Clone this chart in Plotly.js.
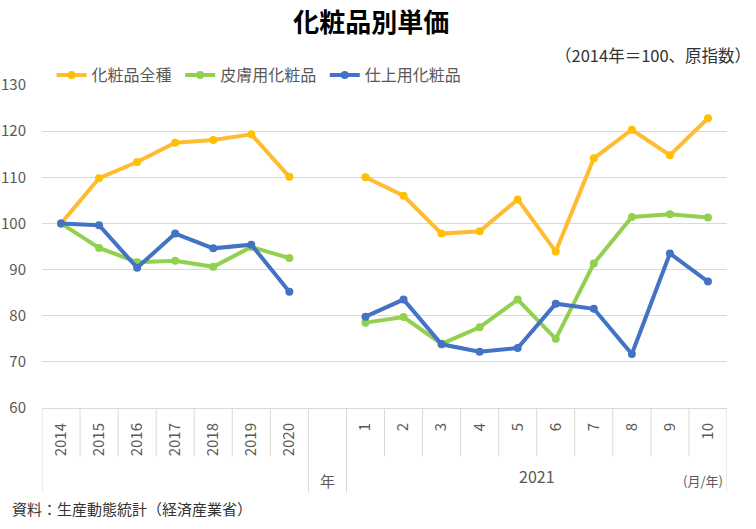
<!DOCTYPE html>
<html>
<head>
<meta charset="utf-8">
<script src="https://cdn.plot.ly/plotly-3.0.1.min.js"></script>
<style>html,body{margin:0;padding:0;background:#fff;}#chart{width:756px;height:529px;}</style>
</head>
<body>
<div id="chart"></div>
<script>
// Categories: 2014-2020 (years), blank "年" slot, months 1-10 of 2021
const categories = ["2014","2015","2016","2017","2018","2019","2020"," ","1","2","3","4","5","6","7","8","9","10"];
const tickLabels = ["2014","2015","2016","2017","2018","2019","2020","","1","2","3","4","5","6","7","8","9","10"];
const seriesNames = ["化粧品全種","皮膚用化粧品","仕上用化粧品"];
const allCosmetics = [100,109.8,113.3,117.5,118.1,119.3,110.1,null,110.0,106.0,97.8,98.3,105.2,93.9,114.1,120.3,114.8,122.8];
const skinCare     = [100,94.7,91.6,91.9,90.6,94.9,92.5,null,78.5,79.7,73.9,77.5,83.5,75.0,91.3,101.4,102.0,101.3];
const makeup       = [100,99.6,90.4,97.8,94.6,95.4,85.2,null,79.8,83.5,73.8,72.2,73.0,82.6,81.5,71.7,93.5,87.4];
const lineColors = ["#FFBC33","#92D050","#4472C4"];
const markerColors = ["#FFC000","#92D050","#4472C4"];

const FONT = '"Noto Sans CJK JP", "Noto Sans", sans-serif';
const GRID = '#D9D9D9';
const TXT = '#595959';

const seriesValues = [allCosmetics, skinCare, makeup];
const traces = seriesValues.map((vals, i) => ({
  type: 'scatter',
  mode: 'lines+markers',
  name: seriesNames[i] + '\u00A0',
  x: categories,
  y: vals,
  connectgaps: false,
  line: {color: lineColors[i], width: 4},
  marker: {color: markerColors[i], size: 8},
  hoverinfo: 'skip'
}));

// separator lines below the category axis (boundaries between categories)
const longBounds = [-0.5, 6.5, 7.5, categories.length - 0.5];
const shapes = [];
for (let b = -0.5; b <= categories.length - 0.5; b += 1) {
  const isLong = longBounds.includes(b);
  shapes.push({
    type: 'line', xref: 'x', yref: 'paper',
    x0: b, x1: b, y0: 0, y1: isLong ? -0.263 : -0.149,
    line: {color: GRID, width: 1}
  });
}

const layout = {
  width: 756, height: 529,
  margin: {l: 42, r: 29, t: 85, b: 121},
  paper_bgcolor: '#fff', plot_bgcolor: '#fff',
  font: {family: FONT, color: TXT, size: 15},
  title: {
    text: '化粧品別単価',
    font: {family: FONT, size: 26, color: '#000', weight: 'bold'},
    x: 0.491, xref: 'container', xanchor: 'center',
    y: 0.956, yref: 'container', yanchor: 'middle'
  },
  showlegend: true,
  legend: {
    orientation: 'h', x: 0.014, xanchor: 'left', y: 1.031, yanchor: 'middle',
    font: {family: FONT, size: 16, color: TXT},
    bgcolor: 'rgba(0,0,0,0)', itemclick: false
  },
  xaxis: {
    type: 'category',
    categoryorder: 'array', categoryarray: categories,
    tickvals: categories, ticktext: tickLabels,
    tickangle: -90,
    ticks: '',
    ticklabelstandoff: 8,
    showgrid: false, zeroline: false,
    showline: true, linecolor: GRID, linewidth: 1,
    tickfont: {family: FONT, size: 15, color: TXT},
    range: [-0.5, categories.length - 0.5]
  },
  yaxis: {
    range: [60, 130], dtick: 10, tick0: 60,
    showgrid: true, gridcolor: GRID, gridwidth: 1,
    zeroline: false, showline: false,
    ticks: '', ticklabelstandoff: 15,
    tickfont: {family: FONT, size: 15, color: TXT}
  },
  shapes: shapes,
  annotations: [
    {text: '（2014年＝100、原指数）', xref: 'paper', yref: 'paper', x: 1.038, y: 1.093,
     xanchor: 'right', yanchor: 'middle', showarrow: false,
     font: {family: FONT, size: 16.5, color: '#333'}},
    {text: '年', xref: 'x', yref: 'paper', x: 7, y: -0.223, xanchor: 'center', yanchor: 'middle',
     showarrow: false, font: {family: FONT, size: 15, color: TXT}},
    {text: '2021', xref: 'x', yref: 'paper', x: 12.5, y: -0.211, xanchor: 'center', yanchor: 'middle',
     showarrow: false, font: {family: FONT, size: 16, color: TXT}},
    {text: '(月/年)', xref: 'paper', yref: 'paper', x: 0.997, y: -0.223, xanchor: 'right', yanchor: 'middle',
     showarrow: false, font: {family: FONT, size: 13, color: TXT}},
    {text: '資料：生産動態統計（経済産業省）', xref: 'paper', yref: 'paper', x: -0.046, y: -0.31,
     xanchor: 'left', yanchor: 'middle', showarrow: false,
     font: {family: FONT, size: 15, color: '#333'}}
  ]
};

Plotly.newPlot('chart', traces, layout, {displayModeBar: false, staticPlot: true});
</script>
</body>
</html>
